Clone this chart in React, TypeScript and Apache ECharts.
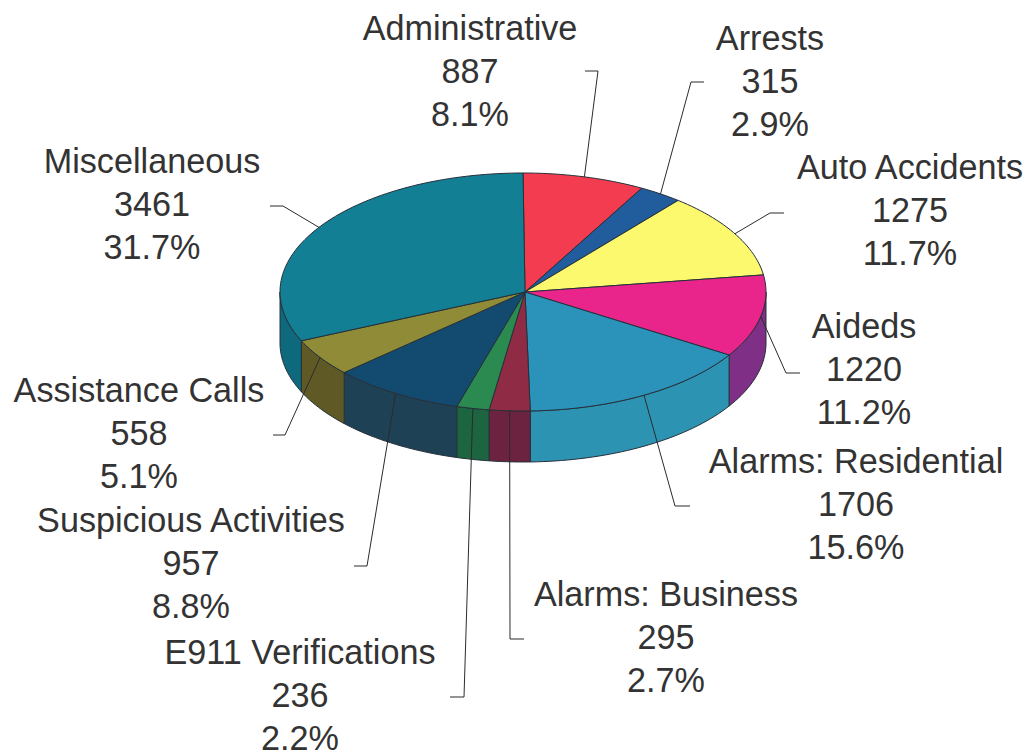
import React, { useEffect, useRef } from "react";
import * as echarts from "echarts";

const categories = ["Administrative", "Arrests", "Auto Accidents", "Aideds", "Alarms: Residential", "Alarms: Business", "E911 Verifications", "Suspicious Activities", "Assistance Calls", "Miscellaneous"];
const callCounts = [887, 315, 1275, 1220, 1706, 295, 236, 957, 558, 3461];
const shares = ["8.1%", "2.9%", "11.7%", "11.2%", "15.6%", "2.7%", "2.2%", "8.8%", "5.1%", "31.7%"];

const topColors = ["#f43c50", "#215c9c", "#fdf96e", "#e9258b", "#2b93b9", "#8f2b44", "#2a8a50", "#124a70", "#8f8b36", "#127f94"];
const wallColors = ["#b02c3c", "#184470", "#b8b450", "#7f2f85", "#2c93b2", "#6b2340", "#1d6440", "#1f4156", "#5f5a25", "#0e697c"];

// Label block centres and the two outer vertices of each leader (layout only)
const labelCentres = [[470, 71], [770, 81], [910, 210], [864, 369], [856, 504], [666, 637], [300, 695], [191, 563], [139, 433], [152, 204]];
const leaderBends = [[[598, 71], [585, 71]], [[691, 82], [704, 82]], [[770, 213], [784, 213]], [[786, 373], [800, 373]], [[675, 506], [690, 506]], [[510, 639], [524, 639]], [[464, 697], [450, 697]], [[367, 566], [354, 566]], [[285, 435], [273, 435]], [[283, 206], [270, 206]]];

const CX = 523;
const CY = 292;
const RX = 243;
const RY = 119;
const DEPTH = 51;
const total = callCounts.reduce((a, b) => a + b, 0);
const startAngles: number[] = [];
callCounts.reduce((acc, v, i) => {
  startAngles[i] = (acc / total) * 360;
  return acc + v;
}, 0);

const rim = (deg: number, dy = 0): number[] => {
  const r = (deg * Math.PI) / 180;
  return [CX + RX * Math.sin(r), CY - RY * Math.cos(r) + dy];
};
const arc = (a0: number, a1: number, dy = 0): number[][] => {
  const n = Math.max(2, Math.ceil((a1 - a0) / 1.5));
  const pts: number[][] = [];
  for (let k = 0; k <= n; k++) pts.push(rim(a0 + ((a1 - a0) * k) / n, dy));
  return pts;
};
const sweep = (i: number) => [startAngles[i], startAngles[i] + (callCounts[i] / total) * 360];

const renderWall = (_: any, api: any) => {
  const i = api.value(0);
  const [a0, a1] = sweep(i);
  const from = Math.max(a0, 90);
  const to = Math.min(a1, 270);
  if (to <= from) return { type: "group", children: [] };
  return {
    type: "polygon",
    shape: { points: [...arc(from, to, 0), ...arc(from, to, DEPTH).reverse()] },
    style: { fill: wallColors[i], stroke: "#26303a", lineWidth: 1, lineJoin: "round" },
  };
};

const renderTop = (_: any, api: any) => {
  const i = api.value(0);
  const [a0, a1] = sweep(i);
  return {
    type: "polygon",
    shape: { points: [[CX + 2, CY], ...arc(a0, a1)] },
    style: { fill: topColors[i], stroke: "#26303a", lineWidth: 1, lineJoin: "round" },
  };
};

const renderLabel = (_: any, api: any) => {
  const i = api.value(0);
  const [a0, a1] = sweep(i);
  const mid = (a0 + a1) / 2;
  const [lx, ly] = labelCentres[i];
  return {
    type: "group",
    children: [
      {
        type: "polyline",
        shape: { points: [rim(mid), ...leaderBends[i]] },
        style: { stroke: "#2b2b2b", lineWidth: 1, fill: "none" },
      },
      {
        type: "text",
        x: lx,
        y: ly,
        style: {
          text: `${categories[i]}\n${api.value(1)}\n${shares[i]}`,
          fontFamily: "Liberation Sans",
          fontSize: 34.2,
          lineHeight: 42.7,
          fill: "#333333",
          align: "center",
          verticalAlign: "middle",
        },
      },
    ],
  };
};

export default function App() {
  const ref = useRef<HTMLDivElement>(null);
  useEffect(() => {
    document.body.style.margin = "0";
    const chart = echarts.init(ref.current!, null, { renderer: "svg" });
    const data = callCounts.map((v, i) => [i, v]);
    const layer = (renderItem: any, z: number) => ({
      type: "custom",
      coordinateSystem: "none",
      renderItem,
      data,
      z,
      silent: true,
    });
    chart.setOption({
      animation: false,
      backgroundColor: "#ffffff",
      series: [layer(renderWall, 1), layer(renderTop, 2), layer(renderLabel, 3)],
    });
    return () => chart.dispose();
  }, []);
  return <div ref={ref} style={{ width: 1027, height: 756 }} />;
}
